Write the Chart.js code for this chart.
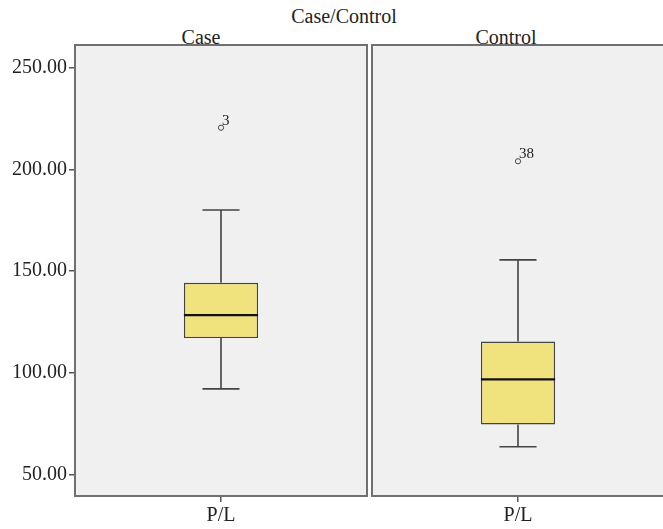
<!DOCTYPE html>
<html>
<head>
<meta charset="utf-8">
<script src="https://cdn.jsdelivr.net/npm/chart.js@4/dist/chart.umd.min.js"></script>
<style>
  body { margin: 0; background: #fff; }
  #wrap { position: relative; width: 663px; height: 529px; overflow: hidden; font-family: "Liberation Serif", "Times New Roman", serif; color: #222; }
  .ttl { position: absolute; font-size: 20px; transform: translate(-50%, -50%); white-space: nowrap; }
  canvas { position: absolute; top: 0; }
</style>
</head>
<body>
<div id="wrap">
  <div class="ttl" style="left:344px; top:16px;">Case/Control</div>
  <div class="ttl" style="left:201px; top:37px;">Case</div>
  <div class="ttl" style="left:506px; top:37px;">Control</div>
  <canvas id="c0" width="369" height="529" style="left:0; width:369px; height:529px;"></canvas>
  <canvas id="c1" width="294" height="529" style="left:370px; width:294px; height:529px;"></canvas>
</div>
<script>
// values
var groups = ["Case", "Control"];
var xLabels = ["P/L"];
var lowWhisker = [92, 63.5];
var q1 = [117, 74.5];
var median = [128.3, 96.7];
var q3 = [144.2, 115.3];
var highWhisker = [180, 155.5];
var outlierValues = [220.5, 204];
var outlierIds = ["3", "38"];
var yTicks = [50, 100, 150, 200, 250];
var yMin = 39.3;
var yMax = 261.2;

var serif = "'Liberation Serif', 'Times New Roman', serif";

const boxExtras = {
  id: "boxExtras",
  beforeDraw(chart) {
    const a = chart.chartArea;
    const ctx = chart.ctx;
    ctx.save();
    ctx.fillStyle = "#f0f0f0";
    ctx.fillRect(a.left, a.top, a.right - a.left, a.bottom - a.top);
    ctx.restore();
  },
  afterDatasetsDraw(chart, args, opts) {
    const i = opts.group;
    const bar = chart.getDatasetMeta(0).data[0];
    const y = chart.scales.y;
    const ctx = chart.ctx;
    const x = bar.x;
    const w = bar.width;
    ctx.save();
    ctx.strokeStyle = "#444";
    ctx.lineWidth = 1.6;
    ctx.beginPath();
    ctx.moveTo(x, y.getPixelForValue(highWhisker[i]));
    ctx.lineTo(x, y.getPixelForValue(q3[i]));
    ctx.moveTo(x, y.getPixelForValue(q1[i]));
    ctx.lineTo(x, y.getPixelForValue(lowWhisker[i]));
    ctx.moveTo(x - w / 4, y.getPixelForValue(highWhisker[i]));
    ctx.lineTo(x + w / 4, y.getPixelForValue(highWhisker[i]));
    ctx.moveTo(x - w / 4, y.getPixelForValue(lowWhisker[i]));
    ctx.lineTo(x + w / 4, y.getPixelForValue(lowWhisker[i]));
    ctx.stroke();
    // median
    ctx.strokeStyle = "#111";
    ctx.lineWidth = 2.4;
    ctx.beginPath();
    ctx.moveTo(x - w / 2, y.getPixelForValue(median[i]));
    ctx.lineTo(x + w / 2, y.getPixelForValue(median[i]));
    ctx.stroke();
    // outlier case number
    const pt = chart.getDatasetMeta(1).data[0];
    ctx.fillStyle = "#222";
    ctx.font = "15px " + serif;
    ctx.textAlign = "left";
    ctx.textBaseline = "alphabetic";
    ctx.fillText(outlierIds[i], pt.x + 1, pt.y - 3);
    ctx.restore();
  },
  afterDraw(chart) {
    const a = chart.chartArea;
    const ctx = chart.ctx;
    ctx.save();
    ctx.strokeStyle = "#707070";
    ctx.lineWidth = 2;
    ctx.strokeRect(a.left, a.top, a.right - a.left, a.bottom - a.top);
    ctx.restore();
  }
};

function makePanel(i, canvasId, showY, padLeft, padRight) {
  const ctx = document.getElementById(canvasId).getContext("2d");
  return new Chart(ctx, {
    type: "bar",
    data: {
      labels: xLabels,
      datasets: [
        {
          type: "bar",
          label: groups[i],
          data: [[q1[i], q3[i]]],
          backgroundColor: "#f0e27c",
          borderColor: "#444",
          borderWidth: 1.4,
          borderSkipped: false,
          barPercentage: 0.254,
          categoryPercentage: 1,
        },
        {
          type: "line",
          label: "outlier",
          data: [outlierValues[i]],
          showLine: false,
          pointRadius: 2.6,
          pointBorderWidth: 1,
          pointBorderColor: "#444",
          pointBackgroundColor: "rgba(0,0,0,0)",
        },
      ],
    },
    options: {
      responsive: false,
      animation: false,
      layout: { autoPadding: false, padding: { top: 45, bottom: 0, left: padLeft, right: padRight } },
      plugins: {
        legend: { display: false },
        tooltip: { enabled: false },
        boxExtras: { group: i },
      },
      scales: {
        x: {
          offset: true,
          grid: { offset: false, drawOnChartArea: false, drawTicks: true, tickLength: 6, color: "#555", lineWidth: 1.5 },
          border: { display: false },
          ticks: { font: { family: serif, size: 20 }, color: "#222", padding: 2 },
          afterFit(scale) {
            scale.height = 33;
            scale.paddingLeft = 0;
            scale.paddingRight = 0;
          },
        },
        y: {
          display: showY,
          min: yMin,
          max: yMax,
          grid: { drawOnChartArea: false, drawTicks: true, tickLength: 6, color: "#555", lineWidth: 1.5 },
          border: { display: false },
          afterBuildTicks(scale) { scale.ticks = yTicks.map((v) => ({ value: v })); },
          ticks: {
            font: { family: serif, size: 20 },
            color: "#222",
            padding: 2,
            callback: (v) => Number(v).toFixed(2),
          },
          afterFit(scale) {
            scale.width = showY ? 75 : 0;
            scale.paddingTop = 0;
            scale.paddingBottom = 0;
          },
        },
      },
    },
    plugins: [boxExtras],
  });
}

makePanel(0, "c0", true, 0, 2);
makePanel(1, "c1", false, 2, 0);
</script>
</body>
</html>
